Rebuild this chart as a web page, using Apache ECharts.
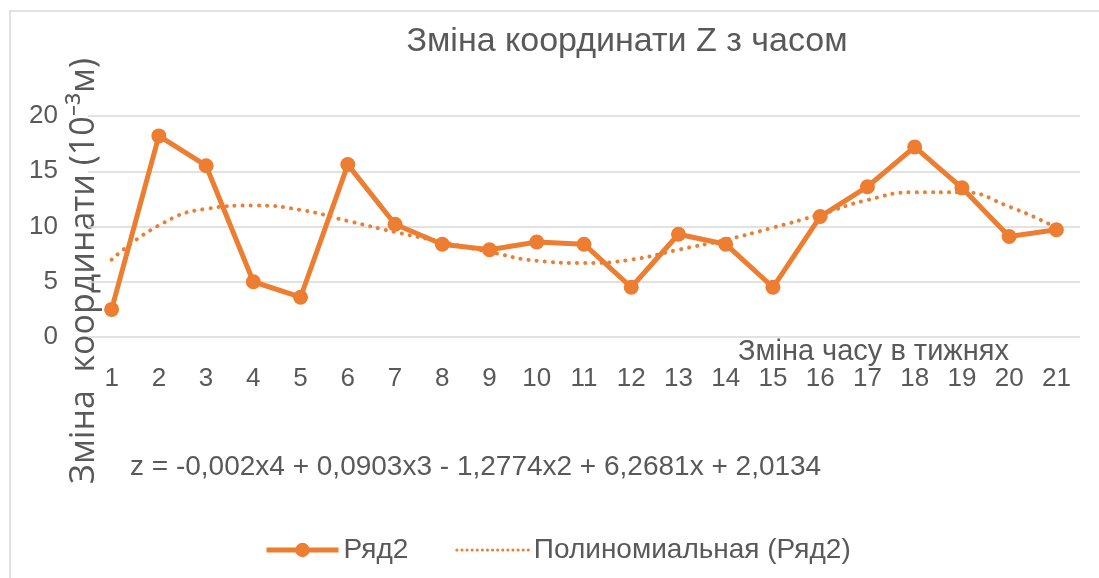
<!DOCTYPE html>
<html>
<head>
<meta charset="utf-8">
<script src="https://cdn.jsdelivr.net/npm/echarts@6/dist/echarts.min.js"></script>
<style>
  html, body { margin: 0; padding: 0; background: #fff; }
  #zChart { width: 1099px; height: 578px; }
</style>
</head>
<body>
<div id="zChart"></div>
<script>
// тижні
var weeks = ['1', '2', '3', '4', '5', '6', '7', '8', '9', '10', '11', '12', '13', '14', '15', '16', '17', '18', '19', '20', '21']
// Ряд2 (10^-3 м)
var zValues = [2.5, 18.2, 15.5, 5.0, 3.6, 15.6, 10.2, 8.4, 7.9, 8.6, 8.4, 4.5, 9.3, 8.4, 4.5, 10.9, 13.6, 17.2, 13.5, 9.1, 9.7]
// поліноміальний тренд
var trendValues = [7.0, 10.1, 11.6, 11.9, 11.5, 10.5, 9.5, 8.6, 7.7, 6.9, 6.7, 7.0, 7.9, 8.8, 9.9, 11.1, 12.4, 13.1, 13.1, 11.8, 9.9]

var mainFont = '"Liberation Sans", Arial, sans-serif'
var textGray = '#595959'
var orange = '#ED7D31'

var myChart = echarts.init(document.getElementById('zChart'))
var option = {
  animation: false,
  backgroundColor: '#fff',
  textStyle: { fontFamily: mainFont },
  graphic: [
    {
      type: 'rect',
      silent: true,
      shape: { x: 10, y: 11, width: 1200, height: 700 },
      style: { fill: 'none', stroke: '#d9d9d9', lineWidth: 1.5 }
    },
    {
      type: 'text',
      x: 627,
      y: 42,
      style: {
        text: 'Зміна координати Z з часом',
        font: '34px ' + mainFont,
        fill: textGray,
        align: 'center',
        verticalAlign: 'middle'
      }
    },
    {
      type: 'text',
      x: 84,
      y: 271,
      rotation: Math.PI / 2,
      style: {
        text: 'Зміна  координати (10⁻³м)',
        font: '34px "Open Sans", "Noto Sans", sans-serif',
        fill: textGray,
        align: 'center',
        verticalAlign: 'middle'
      }
    },
    {
      type: 'text',
      x: 738,
      y: 352,
      style: {
        text: 'Зміна часу в тижнях',
        font: '29px ' + mainFont,
        fill: textGray,
        align: 'left',
        verticalAlign: 'middle'
      }
    },
    {
      type: 'text',
      x: 130,
      y: 467,
      style: {
        text: 'z = -0,002x4 + 0,0903x3 - 1,2774x2 + 6,2681x + 2,0134',
        font: '28px ' + mainFont,
        fill: textGray,
        align: 'left',
        verticalAlign: 'middle'
      }
    }
  ],
  legend: {
    left: 259,
    top: 531,
    itemWidth: 72,
    itemHeight: 18,
    itemGap: 47,
    textStyle: { fontSize: 28, color: textGray, fontFamily: mainFont },
    data: [
      { name: 'Ряд2', lineStyle: { width: 5 } },
      {
        name: 'Полиномиальная (Ряд2)',
        itemStyle: { opacity: 0 },
        lineStyle: { width: 3, type: [0.1, 5], cap: 'round' }
      }
    ]
  },
  grid: {
    left: 88,
    right: 19,
    top: 116,
    bottom: 241
  },
  xAxis: {
    type: 'category',
    data: weeks,
    boundaryGap: true,
    axisLine: { show: false },
    axisTick: { show: false },
    axisLabel: { fontSize: 26, color: textGray, margin: 29, fontFamily: mainFont }
  },
  yAxis: {
    type: 'value',
    min: 0,
    max: 20,
    interval: 5,
    axisLine: { show: false },
    axisTick: { show: false },
    axisLabel: { fontSize: 26, color: textGray, margin: 30, fontFamily: mainFont },
    splitLine: { lineStyle: { color: '#d9d9d9', width: 1.5 } }
  },
  series: [
    {
      name: 'Ряд2',
      type: 'line',
      data: zValues,
      symbol: 'circle',
      symbolSize: 15,
      itemStyle: { color: orange },
      lineStyle: { color: orange, width: 5 },
      z: 3
    },
    {
      name: 'Полиномиальная (Ряд2)',
      type: 'line',
      data: trendValues,
      smooth: true,
      symbol: 'none',
      itemStyle: { color: orange },
      lineStyle: { color: orange, width: 4, type: [0.1, 8], cap: 'round' },
      z: 2
    }
  ]
}
myChart.setOption(option)
</script>
</body>
</html>
